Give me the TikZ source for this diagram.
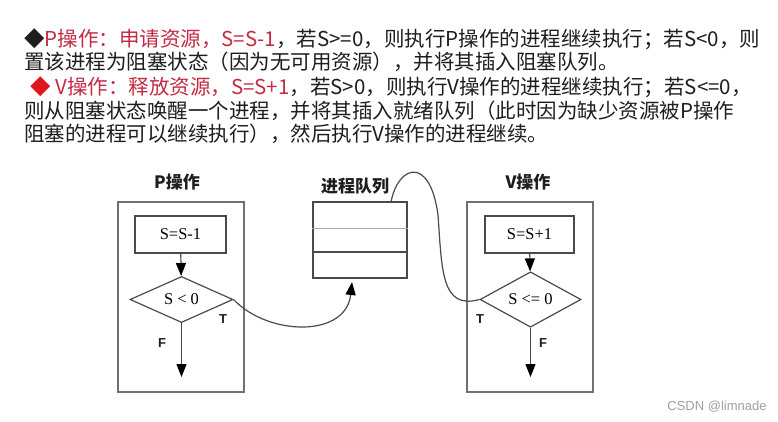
\documentclass[tikz,border=0pt]{standalone}
\usepackage{fontspec}
\setmainfont{Liberation Serif}
\newfontfamily\cjk{Noto Sans CJK SC}
\newfontfamily\arialf{Liberation Sans}
\usetikzlibrary{shapes.geometric,arrows.meta}
\definecolor{txt}{HTML}{1E1E1E}
\definecolor{hl}{HTML}{C42A43}
\definecolor{dia}{HTML}{E0161E}
\definecolor{ln}{HTML}{4A4A4A}
\definecolor{framec}{HTML}{707070}
\definecolor{lightln}{HTML}{A8A8A8}
\definecolor{wm}{HTML}{A0A0A0}
\tikzset{
  txtline/.style={anchor=west,inner sep=0pt,text=txt,font=\cjk\fontsize{20.5pt}{24pt}\selectfont},
  outerbox/.style={draw=framec,line width=1.3pt,minimum width=126pt,minimum height=190pt,inner sep=0pt},
  stepbox/.style={draw=ln,line width=1.2pt,minimum height=37pt,inner sep=0pt,font=\fontsize{16.5pt}{18pt}\selectfont},
  decbox/.style={diamond,draw=ln,line width=1.2pt,minimum height=39pt,inner sep=0pt,font=\fontsize{16.5pt}{18pt}\selectfont},
  qbox/.style={draw=ln,line width=1.2pt,minimum width=94pt,minimum height=76pt,inner sep=0pt},
  headlbl/.style={inner sep=0pt,text=txt,font=\cjk\bfseries\fontsize{17pt}{19pt}\selectfont},
  tflbl/.style={inner sep=0pt,text=txt,font=\arialf\bfseries\fontsize{13pt}{13pt}\selectfont},
  flowarrow/.style={draw=ln,line width=1.2pt,-{Triangle[length=13pt,width=10pt,color=black]}},
  conn/.style={draw=ln,line width=1.2pt},
}
\begin{document}
\begin{tikzpicture}[x=1pt,y=-1pt]
\useasboundingbox[fill=white] (0,0) rectangle (778,421);

% header text
\node[txtline] (l1) at (24,39) {◆{\color{hl}P操作：申请资源，S=S-1}，若S>=0，则执行P操作的进程继续执行；若S<0，则};
\node[txtline] (l2) at (24,62) {置该进程为阻塞状态（因为无可用资源），并将其插入阻塞队列。};
\node[txtline] (l3) at (30,87) {{\color{dia}◆}\ {\color{hl}V操作：释放资源，S=S+1}，若S>0，则执行V操作的进程继续执行；若S<=0，};
\node[txtline] (l4) at (24,111) {则从阻塞状态唤醒一个进程，并将其插入就绪队列（此时因为缺少资源被P操作};
\node[txtline] (l5) at (24,134) {阻塞的进程可以继续执行），然后执行V操作的进程继续。};

% P operation
\node[headlbl] (ptitle) at (177,182) {P操作};
\node[outerbox] (pbox) at (181,297) {};
\node[stepbox,minimum width=91pt] (pstep) at (180.5,234.5) {S=S-1};
\node[decbox,minimum width=103pt] (pdec) at (181.5,299.5) {S < 0};
\node[tflbl] (pT) at (223,319) {T};
\node[tflbl] (pF) at (162,343) {F};
\coordinate (pend) at (181.5,377);
\draw[flowarrow] (pstep) -- (pdec);
\draw[flowarrow] (pdec.south) -- (pend);

% queue
\node[headlbl] (qtitle) at (355,186) {进程队列};
\node[qbox] (queue) at (360,240) {};
\draw[lightln,line width=1pt] (queue.west |- 0,228) -- (queue.east |- 0,228);
\draw[ln,line width=1.2pt] (queue.west |- 0,252) -- (queue.east |- 0,252);
\coordinate (qin) at (352,282);
\coordinate (qtop) at (391,202);

% V operation
\node[headlbl] (vtitle) at (528,182) {V操作};
\node[outerbox] (vbox) at (530,297) {};
\node[stepbox,minimum width=89pt] (vstep) at (529.5,234.5) {S=S+1};
\node[decbox,minimum width=101pt] (vdec) at (530.5,299.5) {S <= 0};
\node[tflbl] (vT) at (480,319) {T};
\node[tflbl] (vF) at (543,343) {F};
\coordinate (vend) at (530.5,377);
\draw[flowarrow] (vstep) -- (vdec);
\draw[flowarrow] (vdec.south) -- (vend);

% connectors
\draw[flowarrow] (pdec.east) .. controls (268,336) and (346,338) .. (qin);
\draw[conn] (qtop) .. controls (398,165) and (430,155) .. (438,215) .. controls (442,270) and (441,310) .. (vdec.west);

% watermark
\node[inner sep=0pt,text=wm,font=\arialf\fontsize{13pt}{13pt}\selectfont] (wmark) at (717,407) {CSDN @limnade};
\end{tikzpicture}
\end{document}
